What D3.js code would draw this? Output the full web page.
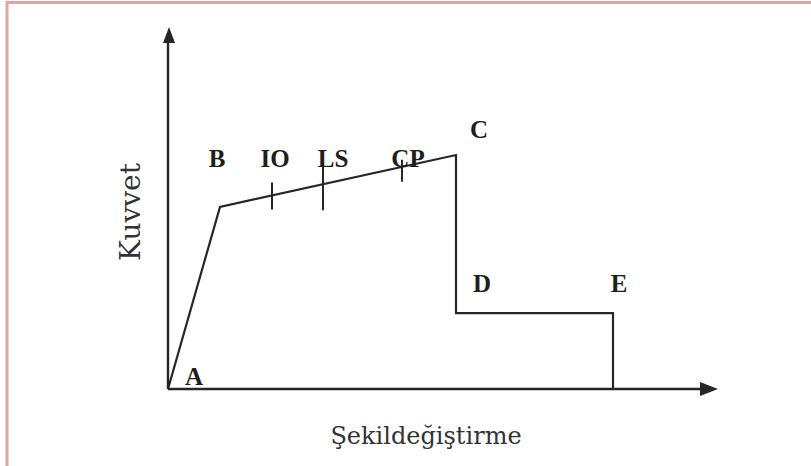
<!DOCTYPE html>
<html>
<head>
<meta charset="utf-8">
<script src="https://cdn.jsdelivr.net/npm/d3@7"></script>
<style>
  body { margin: 0; background: #fff; }
  svg { display: block; }
</style>
</head>
<body>
<div id="chart"></div>
<script>
// kuvvet - sekildegistirme egrisi
const pointNames = ['A', 'B', 'C', 'D', 'E', ''];
const deformation = [0, 1.04, 5.76, 5.76, 8.9, 8.9];
const force = [0, 5.06, 6.5, 2.11, 2.11, 0];

const levelNames = ['IO', 'LS', 'CP'];
const levelDeformation = [2.08, 3.1, 4.68];

const xTitle = 'Şekildeğiştirme';
const yTitle = 'Kuvvet';

let dim = { width: 811, height: 466 };
let ink = '#262626';

let svg = d3.select('#chart').append('svg')
    .attr('width', dim.width)
    .attr('height', dim.height);

// pembe cerceve
svg.append('line').attr('x1', 6).attr('x2', dim.width).attr('y1', 2.5).attr('y2', 2.5)
    .attr('stroke', '#e2a4a4').attr('stroke-width', 3);
svg.append('line').attr('x1', 7).attr('x2', 7).attr('y1', 1).attr('y2', dim.height)
    .attr('stroke', '#e2a4a4').attr('stroke-width', 3);

let x = d3.scaleLinear().domain([0, 11]).range([168, 718]);
let y = d3.scaleLinear().domain([0, 10]).range([389, 29]);

// eksenler
svg.append('line')
    .attr('x1', x(0)).attr('x2', x(11) - 12)
    .attr('y1', y(0)).attr('y2', y(0))
    .attr('stroke', ink).attr('stroke-width', 2.4);
svg.append('line')
    .attr('x1', x(0)).attr('x2', x(0))
    .attr('y1', y(0)).attr('y2', y(10) + 10)
    .attr('stroke', ink).attr('stroke-width', 2.4);

// ok uclari
svg.append('path')
    .attr('d', `M${x(11)},${y(0)} L${x(11) - 18},${y(0) - 7} L${x(11) - 18},${y(0) + 7} Z`)
    .attr('fill', ink);
svg.append('path')
    .attr('d', `M${x(0) + 1},${y(10) - 2} L${x(0) - 5},${y(10) + 14} L${x(0) + 7},${y(10) + 14} Z`)
    .attr('fill', ink);

let curve = deformation.map((d, i) => ({ x: d, y: force[i], name: pointNames[i] }));

let line = d3.line().x(d => x(d.x)).y(d => y(d.y));

svg.append('path')
    .datum(curve)
    .attr('d', line)
    .attr('fill', 'none')
    .attr('stroke', ink)
    .attr('stroke-width', 2.2)
    .attr('stroke-linejoin', 'miter');

// B-C dogrusu uzerindeki performans seviyeleri
let forceAt = d3.scaleLinear().domain([deformation[1], deformation[2]]).range([force[1], force[2]]);
let tickSpan = { IO: [-13, 14], LS: [-22, 26], CP: [-7, 15] };
let levelOffset = { IO: 3, LS: 10, CP: 6 };

levelNames.forEach((name, i) => {
    let cx = x(levelDeformation[i]);
    let cy = y(forceAt(levelDeformation[i]));
    svg.append('line')
        .attr('x1', cx).attr('x2', cx)
        .attr('y1', cy + tickSpan[name][0]).attr('y2', cy + tickSpan[name][1])
        .attr('stroke', ink).attr('stroke-width', 2);
    svg.append('text')
        .attr('x', cx + levelOffset[name])
        .attr('y', 167)
        .attr('text-anchor', 'middle')
        .attr('font-family', 'Liberation Serif, serif')
        .attr('font-weight', 'bold')
        .attr('font-size', 25)
        .attr('fill', '#1e1e1e')
        .text(name);
});

// nokta harfleri
let labelOffset = { A: [26, -4], B: [-3, -40], C: [23, -17], D: [26, -21], E: [6, -21] };
svg.selectAll('.pt')
    .data(curve.filter(d => d.name))
    .enter()
    .append('text')
    .attr('class', 'pt')
    .attr('x', d => x(d.x) + labelOffset[d.name][0])
    .attr('y', d => y(d.y) + labelOffset[d.name][1])
    .attr('text-anchor', 'middle')
    .attr('font-family', 'Liberation Serif, serif')
    .attr('font-weight', 'bold')
    .attr('font-size', 25)
    .attr('fill', '#1e1e1e')
    .text(d => d.name);

// eksen basliklari
svg.append('text')
    .attr('x', 426).attr('y', 444)
    .attr('text-anchor', 'middle')
    .attr('font-family', 'DejaVu Serif, serif')
    .attr('font-size', 24)
    .attr('fill', '#333')
    .text(xTitle);

svg.append('text')
    .attr('transform', 'translate(140,212) rotate(-90)')
    .attr('text-anchor', 'middle')
    .attr('font-family', 'DejaVu Serif, serif')
    .attr('font-size', 28)
    .attr('fill', '#333')
    .text(yTitle);
</script>
</body>
</html>
